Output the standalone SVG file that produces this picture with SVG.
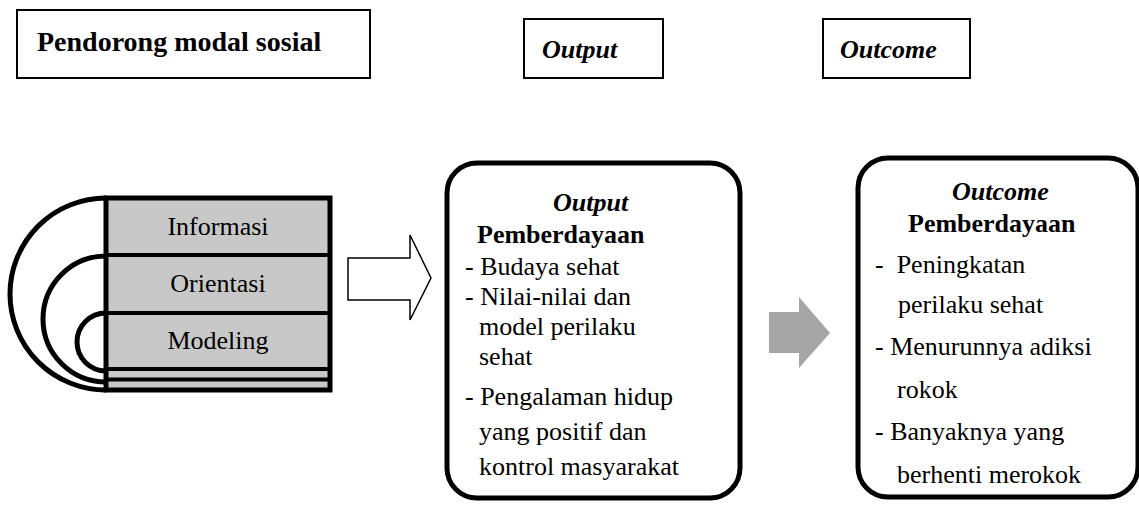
<svg xmlns="http://www.w3.org/2000/svg" width="1139" height="505" viewBox="0 0 1139 505" font-family="Liberation Serif, Tinos, Times New Roman, serif">
<rect width="1139" height="505" fill="#fff"/>
<g id="hdr-pendorong">
<rect x="17" y="10" width="353" height="68" fill="#fff" stroke="#000" stroke-width="2"/>
<text x="37" y="51" font-family="Liberation Serif" font-size="28" font-weight="bold">Pendorong modal sosial</text>
</g>
<g id="hdr-output">
<rect x="524" y="19" width="139" height="59" fill="#fff" stroke="#000" stroke-width="2"/>
<text x="542" y="58" font-family="Liberation Serif" font-size="26" font-weight="bold" font-style="italic">Output</text>
</g>
<g id="hdr-outcome">
<rect x="823" y="19" width="147" height="59" fill="#fff" stroke="#000" stroke-width="2"/>
<text x="840" y="58" font-family="Liberation Serif" font-size="26" font-weight="bold" font-style="italic">Outcome</text>
</g>
<g id="modal-sosial">
<rect x="106" y="198" width="224" height="192" fill="#c8c8c8" stroke="#000" stroke-width="5"/>
<g stroke="#000" stroke-width="4">
<line x1="106" y1="255" x2="330" y2="255"/>
<line x1="106" y1="313" x2="330" y2="313"/>
<line x1="106" y1="369" x2="330" y2="369"/>
<line x1="106" y1="379.5" x2="330" y2="379.5"/>
</g>
<g fill="none" stroke="#000" stroke-width="5">
<path d="M106,198 A96,96 0 0 0 106,390"/>
<path d="M106,256 A63,63 0 0 0 106,382"/>
<path d="M106,313 A29,29 0 0 0 106,371"/>
</g>
<text x="218" y="235" text-anchor="middle" font-family="Liberation Serif" font-size="26">Informasi</text>
<text x="218" y="292" text-anchor="middle" font-family="Liberation Serif" font-size="26">Orientasi</text>
<text x="218" y="349" text-anchor="middle" font-family="Liberation Serif" font-size="26">Modeling</text>
</g>
<g id="connectors">
<polygon points="348,258 410,258 410,235 431,278 410,320 410,300 348,300" fill="#fff" stroke="#000" stroke-width="1.5"/>
<polygon points="769,312 799,312 799,297 830,333 799,368 799,353 769,353" fill="#a6a6a6"/>
</g>
<g id="output-pemberdayaan">
<rect x="447" y="163" width="293" height="335" rx="30" fill="#fff" stroke="#000" stroke-width="5"/>
<text x="553" y="211" font-family="Liberation Serif" font-size="26" font-weight="bold" font-style="italic">Output</text>
<text x="477" y="243" font-family="Liberation Serif" font-size="26" font-weight="bold">Pemberdayaan</text>
<text x="465" y="275" font-family="Liberation Serif" font-size="26">- Budaya sehat</text>
<text x="465" y="305" font-family="Liberation Serif" font-size="26">- Nilai-nilai dan</text>
<text x="479" y="335" font-family="Liberation Serif" font-size="26">model perilaku</text>
<text x="479" y="365" font-family="Liberation Serif" font-size="26">sehat</text>
<text x="465" y="405" font-family="Liberation Serif" font-size="26">- Pengalaman hidup</text>
<text x="479" y="440" font-family="Liberation Serif" font-size="26">yang positif dan</text>
<text x="479" y="475" font-family="Liberation Serif" font-size="26">kontrol masyarakat</text>
</g>
<g id="outcome-pemberdayaan">
<rect x="858" y="158" width="280" height="339" rx="30" fill="#fff" stroke="#000" stroke-width="5"/>
<text x="952" y="200" font-family="Liberation Serif" font-size="26" font-weight="bold" font-style="italic">Outcome</text>
<text x="908" y="232" font-family="Liberation Serif" font-size="26" font-weight="bold">Pemberdayaan</text>
<text x="875" y="273" font-family="Liberation Serif" font-size="26" xml:space="preserve">-  Peningkatan</text>
<text x="898" y="313" font-family="Liberation Serif" font-size="26">perilaku sehat</text>
<text x="875" y="355" font-family="Liberation Serif" font-size="26">- Menurunnya adiksi</text>
<text x="897" y="398" font-family="Liberation Serif" font-size="26">rokok</text>
<text x="875" y="440" font-family="Liberation Serif" font-size="26">- Banyaknya yang</text>
<text x="897" y="483" font-family="Liberation Serif" font-size="26">berhenti merokok</text>
</g>
</svg>
